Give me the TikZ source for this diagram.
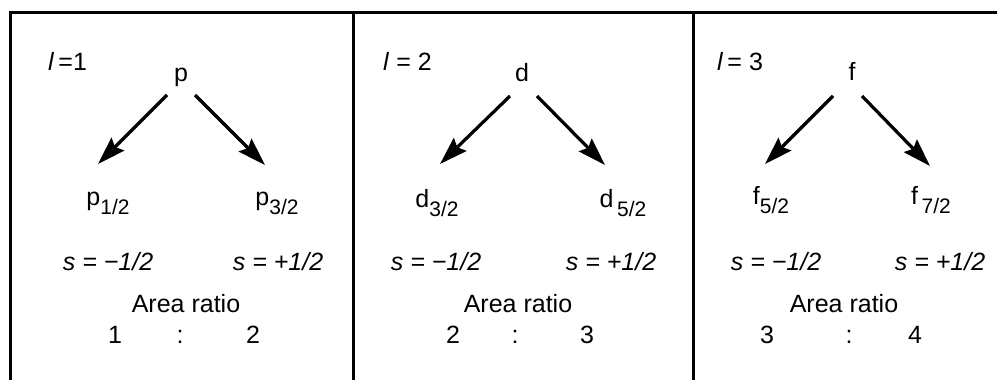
\documentclass[tikz,border=0pt]{standalone}
\usepackage{fontspec}
\setmainfont{Liberation Sans}
\usetikzlibrary{arrows.meta}
\newcommand\lvsub[2]{#1\raisebox{-9pt}{\fontsize{21}{21}\selectfont #2}}
\begin{document}
\begin{tikzpicture}[x=1pt,y=-1pt,
  txt/.style={inner sep=0pt, anchor=base, font=\fontsize{25}{30}\selectfont},
  lab/.style={txt, anchor=base west},
  arr/.style={line width=3.2pt, -{Stealth[length=28pt,width=18pt,inset=4pt]}},
  frame/.style={line width=3pt}]
\useasboundingbox (0,0) rectangle (997,380);
% frame
\coordinate (tl) at (10,12);
\coordinate (tr) at (997,12);
\coordinate (bl) at (10,380);
\coordinate (d1t) at (353,12);
\coordinate (d1b) at (353,380);
\coordinate (d2t) at (693,12);
\coordinate (d2b) at (693,380);
\draw[frame] (bl) -- (tl) -- (tr);
\draw[frame] (d1t) -- (d1b);
\draw[frame] (d2t) -- (d2b);

% ---------- panel 1 ----------
\node[lab] (l1) at (48,70) {\textit{l}\,=1};
\node[txt] (p) at (181,81) {p};
\node[txt] (p12) at (108,205) {\lvsub{p}{1/2}};
\node[txt] (p32) at (277,205) {\lvsub{p}{3/2}};
\coordinate (p1s) at (167,95);
\coordinate (p1e) at (98,164);
\coordinate (p2s) at (195,95);
\coordinate (p2e) at (265,165);
\draw[arr] (p1s) -- (p1e);
\draw[arr] (p2s) -- (p2e);
\node[txt] (s11) at (108,270) {\itshape s = −1/2};
\node[txt] (s12) at (278,270) {\itshape s = +1/2};
\node[txt] (ar1) at (186,312) {Area ratio};
\node[txt] (n11) at (115,343) {1};
\node[txt] (c1) at (180,343) {:};
\node[txt] (n12) at (253,343) {2};

% ---------- panel 2 ----------
\node[lab] (l2) at (383,70) {\textit{l} = 2};
\node[txt] (d) at (522,81) {d};
\node[txt] (d32) at (437,207) {\lvsub{d}{3/2}};
\node[txt] (d52) at (623,207) {\lvsub{d}{\,5/2}};
\coordinate (d1s) at (510,96);
\coordinate (d1e) at (440,164);
\coordinate (d2s) at (537,96);
\coordinate (d2e) at (605,165);
\draw[arr] (d1s) -- (d1e);
\draw[arr] (d2s) -- (d2e);
\node[txt] (s21) at (436,270) {\itshape s = −1/2};
\node[txt] (s22) at (611,270) {\itshape s = +1/2};
\node[txt] (ar2) at (518,312) {Area ratio};
\node[txt] (n21) at (453,343) {2};
\node[txt] (c2) at (515,343) {:};
\node[txt] (n22) at (587,343) {3};

% ---------- panel 3 ----------
\node[lab] (l3) at (717,70) {\textit{l}\,= 3};
\node[txt] (f) at (852,80) {f};
\node[txt] (f52) at (771,204) {\lvsub{f}{5/2}};
\node[txt] (f72) at (931,204) {\lvsub{f}{\,7/2}};
\coordinate (f1s) at (833,96);
\coordinate (f1e) at (765,164);
\coordinate (f2s) at (862,96);
\coordinate (f2e) at (930,166);
\draw[arr] (f1s) -- (f1e);
\draw[arr] (f2s) -- (f2e);
\node[txt] (s31) at (776,270) {\itshape s = −1/2};
\node[txt] (s32) at (940,270) {\itshape s = +1/2};
\node[txt] (ar3) at (844,312) {Area ratio};
\node[txt] (n31) at (767,343) {3};
\node[txt] (c3) at (849,343) {:};
\node[txt] (n32) at (915,343) {4};
\end{tikzpicture}
\end{document}
